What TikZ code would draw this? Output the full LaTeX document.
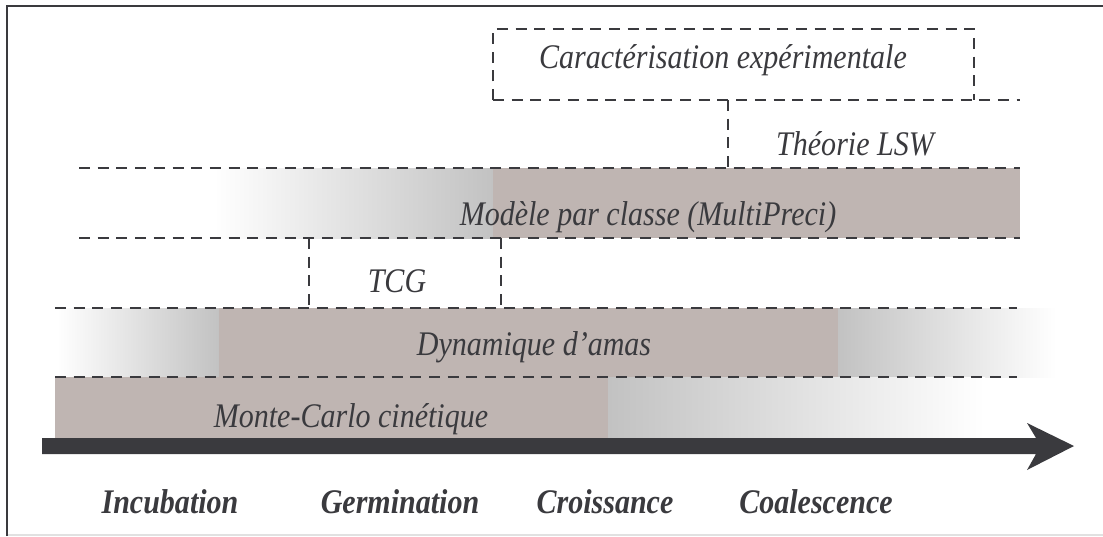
\documentclass[tikz,border=0pt]{standalone}
\usepackage{fontspec}
\setmainfont{Liberation Serif}[FakeStretch=0.87]
\definecolor{ink}{RGB}{58,58,62}
\definecolor{band}{RGB}{191,181,178}
\definecolor{fade}{RGB}{194,194,194}
\definecolor{edge}{RGB}{225,225,225}
\begin{document}
\begin{tikzpicture}[x=1pt,y=-1pt,
  dline/.style={draw=ink, line width=2.8pt, dash pattern=on 11pt off 7.7pt},
  frameline/.style={draw=ink, line width=2.5pt},
  lbl/.style={font=\fontsize{34.5}{36}\selectfont\itshape, text=ink, inner sep=0pt, anchor=base},
  phase/.style={font=\fontsize{34.5}{36}\selectfont\bfseries\itshape, text=ink, inner sep=0pt, anchor=base}]
\useasboundingbox (0,0) rectangle (1103,536);
\fill[white] (0,0) rectangle (1103,536);
% frame
\draw[edge, line width=2pt] (7,535) -- (1103,535);
\draw[frameline] (7,536) -- (7,6) -- (1103,6);

% Modele par classe band
\shade[left color=white, right color=fade] (214,168) rectangle (493,238);
\fill[band] (493,168) rectangle (1020,238);
% Dynamique d'amas band
\shade[left color=white, right color=fade] (57,308) rectangle (219,377);
\fill[band] (219,308) rectangle (838,377);
\shade[left color=fade, right color=white] (838,308) rectangle (1056,377);
% Monte-Carlo band
\fill[band] (55,377) rectangle (608,438);
\shade[left color=fade, right color=white] (608,377) rectangle (985,438);

% Caracterisation box
\draw[dline] (493,100) -- (493,29) -- (974,29) -- (974,100);
\draw[dline] (493,100) -- (1020,100);
% LSW
\draw[dline] (728,100) -- (728,168);
% Modele lines
\draw[dline] (79,168) -- (1020,168);
\draw[dline] (79,238) -- (1020,238);
% TCG
\draw[dline] (309,238) -- (309,308);
\draw[dline] (501,238) -- (501,308);
% Dynamique lines
\draw[dline] (55,308) -- (1017,308);
\draw[dline] (55,377) -- (1017,377);

% arrow
\fill[ink] (42,438) -- (1036,438) -- (1027,423) -- (1074,446) -- (1027,470) -- (1036,454) -- (42,454) -- cycle;

% texts
\node[lbl] (carac) at (723,68) {Caractérisation expérimentale};
\node[lbl] (lsw) at (855,155) {Théorie LSW};
\node[lbl] (mod) at (648,225) {Modèle par classe (MultiPreci)};
\node[lbl] (tcg) at (397,292) {TCG};
\node[lbl] (dyn) at (534,355) {Dynamique d’amas};
\node[lbl] (mc) at (351,427) {Monte-Carlo cinétique};

\node[phase] (inc) at (170,513) {Incubation};
\node[phase] (ger) at (400,513) {Germination};
\node[phase] (cro) at (605,513) {Croissance};
\node[phase] (coa) at (816,513) {Coalescence};
\end{tikzpicture}
\end{document}
